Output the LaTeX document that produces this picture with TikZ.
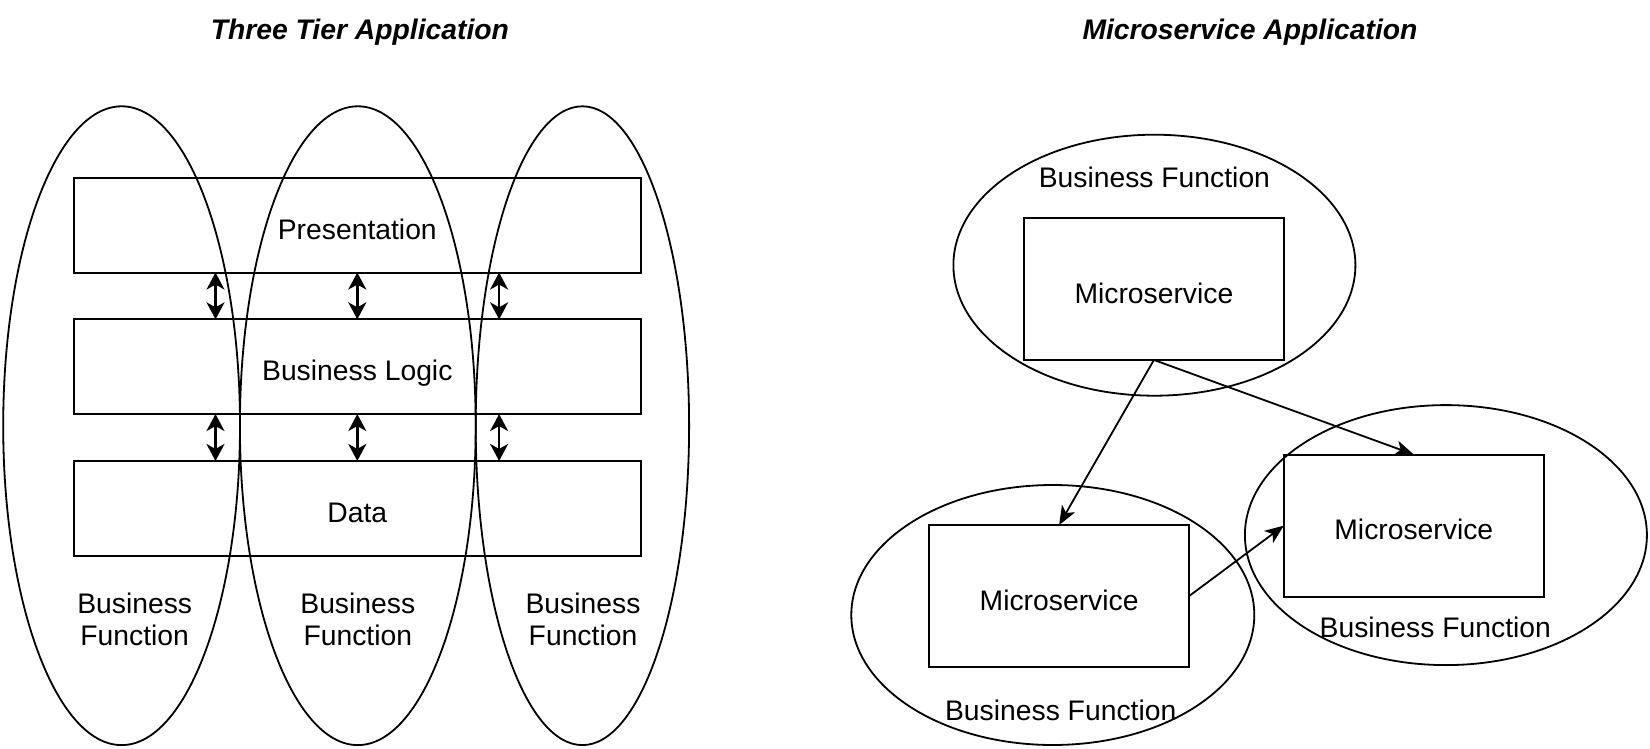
\documentclass[tikz,border=0pt]{standalone}
\usepackage{fontspec}
\setmainfont{Liberation Sans}
\usetikzlibrary{shapes.geometric,arrows.meta,calc}
\begin{document}
\begin{tikzpicture}[x=1pt,y=-1pt,
  every node/.style={font=\fontsize{28.3}{32.6}\selectfont},
  bf/.style={draw, ellipse, line width=1.8pt, inner sep=0pt, outer sep=0pt},
  boxtext/.style={text height=28.2pt, text depth=0pt},
  tier/.style={draw, rectangle, boxtext, line width=2pt, minimum width=567.2pt, minimum height=94.7pt, inner sep=0pt, outer sep=0pt},
  ms/.style={draw, rectangle, boxtext, line width=2pt, minimum width=259.9pt, minimum height=142.1pt, inner sep=0pt, outer sep=0pt},
  lbl/.style={align=center, inner sep=0pt},
  ttl/.style={inner sep=0pt, font=\fontsize{28.3}{32.6}\selectfont\bfseries\itshape},
  dbl/.style={{Stealth[length=17pt,width=18pt,inset=5pt]}-{Stealth[length=17pt,width=18pt,inset=5pt]}, line width=2.4pt},
  link/.style={-{Stealth[length=19pt,width=15pt,inset=5pt]}, line width=1.8pt}
]
\useasboundingbox (0,0) rectangle (1650,749);

% titles
\node[ttl] (t1) at (359.9,32.5) {Three Tier Application};
\node[ttl] (t2) at (1250,32.5) {Microservice Application};

% left: business function ellipses
\node[bf, minimum width=236.8pt, minimum height=638.8pt] (e1) at (121.6,425.7) {};
\node[bf, minimum width=235.8pt, minimum height=638.8pt] (e2) at (357.8,425.7) {};
\node[bf, minimum width=213.4pt, minimum height=638.8pt] (e3) at (582.4,425.7) {};

% tiers
\node[tier] (pres) at (357.3,225.2) {Presentation};
\node[tier] (logic) at (357.3,366.7) {Business Logic};
\node[tier] (data) at (357.3,508.3) {Data};

% double arrows
\foreach \f in {0.25,0.5,0.75}{
  \draw[dbl] ($(pres.south west)!\f!(pres.south east)$) -- ($(logic.north west)!\f!(logic.north east)$);
  \draw[dbl] ($(logic.south west)!\f!(logic.south east)$) -- ($(data.north west)!\f!(data.north east)$);
}

% left labels
\node[lbl] (l1) at (134.7,619.3) {Business\\Function};
\node[lbl] (l2) at (357.8,619.3) {Business\\Function};
\node[lbl] (l3) at (583.0,619.3) {Business\\Function};

% right: microservices
\node[bf, minimum width=402pt, minimum height=261pt] (re1) at (1154.4,265.2) {};
\node[bf, minimum width=403pt, minimum height=260pt] (re2) at (1052.8,615.0) {};
\node[bf, minimum width=402pt, minimum height=260pt] (re3) at (1445.9,535.1) {};

\node[ms] (m1) at (1153.9,288.9) {Microservice};
\node[ms] (m2) at (1059.1,596.1) {Microservice};
\node[ms] (m3) at (1413.8,525.6) {Microservice};

\node[inner sep=0pt] (b1) at (1154.4,177.8) {Business Function};
\node[inner sep=0pt] (b2) at (1060.7,710.3) {Business Function};
\node[inner sep=0pt] (b3) at (1435.3,627.1) {Business Function};

\draw[link] (m1.south) -- (m2.north);
\draw[link] (m1.south) -- (m3.north);
\draw[link] (m2.east) -- (m3.west);
\end{tikzpicture}
\end{document}
